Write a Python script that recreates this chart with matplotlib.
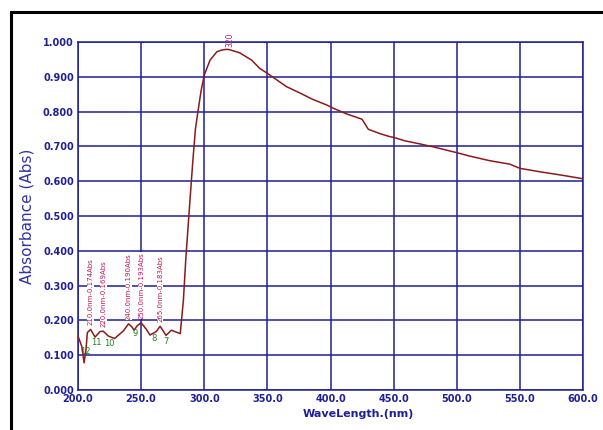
import matplotlib
matplotlib.use("Agg")
import matplotlib.pyplot as plt
from matplotlib.patches import Rectangle

# spectrum (nm, Abs)
wavelength = [200, 203, 204.8, 206.3, 207.4, 210, 213.5, 217.4, 220, 224, 229,
              236, 240, 242.5, 244.4, 247, 250, 254, 257, 262, 265, 266.5,
              269.7, 274, 278, 281, 283.5, 285.5, 288.7, 291, 293, 295, 297.5,
              300, 304.6, 310, 314, 317.8, 320, 328, 337.5, 344, 350, 365, 376,
              386, 397, 402, 413, 425, 430, 439, 447, 450, 459, 471, 481, 500,
              510.5, 526, 542, 550, 566, 582, 600]
absorbance = [0.155, 0.125, 0.078, 0.115, 0.165, 0.174, 0.152, 0.168, 0.169,
              0.155, 0.148, 0.170, 0.190, 0.182, 0.172, 0.185, 0.193, 0.175,
              0.158, 0.168, 0.183, 0.175, 0.157, 0.172, 0.166, 0.162, 0.259,
              0.383, 0.546, 0.660, 0.750, 0.800, 0.860, 0.905, 0.948, 0.972,
              0.977, 0.979, 0.978, 0.969, 0.948, 0.924, 0.910, 0.872, 0.853,
              0.835, 0.819, 0.810, 0.793, 0.778, 0.749, 0.737, 0.728, 0.726,
              0.716, 0.707, 0.699, 0.682, 0.672, 0.659, 0.649, 0.637, 0.627,
              0.618, 0.607]

peak_nm = [210.0, 220.0, 240.0, 250.0, 265.0]
peak_abs = [0.174, 0.169, 0.190, 0.193, 0.183]

valley_ids = ["12", "11", "10", "9", "8", "7"]
valley_nm = [206.0, 214.8, 224.8, 245.0, 260.0, 270.0]
valley_abs = [0.112, 0.136, 0.134, 0.162, 0.148, 0.140]

top_nm = 320
top_abs = 0.979

navy = "#1f1f96"
red = "#8b1a1a"
pink = "#c0185a"
green = "#2a7a2a"

fig = plt.figure(figsize=(6.03, 4.30), dpi=100)
ax = fig.add_axes([78 / 603, 40 / 430, 505 / 603, 348 / 430])

ax.plot(wavelength, absorbance, color=red, lw=1.1, zorder=3)
ax.set_xlim(200, 600)
ax.set_ylim(0, 1.0)
ax.set_xticks(range(200, 601, 50))
ax.set_yticks([i / 10 for i in range(11)])
ax.set_xticklabels(["%.1f" % t for t in range(200, 601, 50)])
ax.set_yticklabels(["%.3f" % (i / 10) for i in range(11)])
ax.grid(True, color=navy, lw=1.1)
ax.set_axisbelow(True)
for s in ax.spines.values():
    s.set_color(navy)
    s.set_linewidth(1.1)
ax.tick_params(length=0, colors=navy, labelsize=7, pad=3)
for lab in ax.get_xticklabels() + ax.get_yticklabels():
    lab.set_fontweight("bold")

ax.set_ylabel("Absorbance (Abs)", color="#3333a8", fontsize=11, labelpad=6)
ax.set_xlabel("WaveLength.(nm)", color=navy, fontsize=8, fontweight="bold")
ax.xaxis.set_label_coords(0.555, -0.055)

for nm, a in zip(peak_nm, peak_abs):
    ax.annotate("%.1fnm-%.3fAbs" % (nm, a), (nm, a), xytext=(0, 3),
                textcoords="offset points", rotation=90, ha="center",
                va="bottom", fontsize=5, color=pink, zorder=4,
                bbox=dict(boxstyle="square,pad=0.05", fc="white", ec="none"))
for t, nm, a in zip(valley_ids, valley_nm, valley_abs):
    ax.text(nm, a, t, ha="center", va="center", fontsize=6, color=green,
            zorder=4)
ax.annotate(str(top_nm), (top_nm, top_abs), xytext=(0, 2),
            textcoords="offset points", rotation=90, ha="center",
            va="bottom", fontsize=5.5, color=pink, annotation_clip=False)

fig.patches.append(Rectangle((11 / 603, -0.05), 1.0, 1 - 12 / 430 + 0.05,
                             transform=fig.transFigure, fill=False,
                             edgecolor="black", lw=2.2))

fig.savefig("out.png", dpi=100)
